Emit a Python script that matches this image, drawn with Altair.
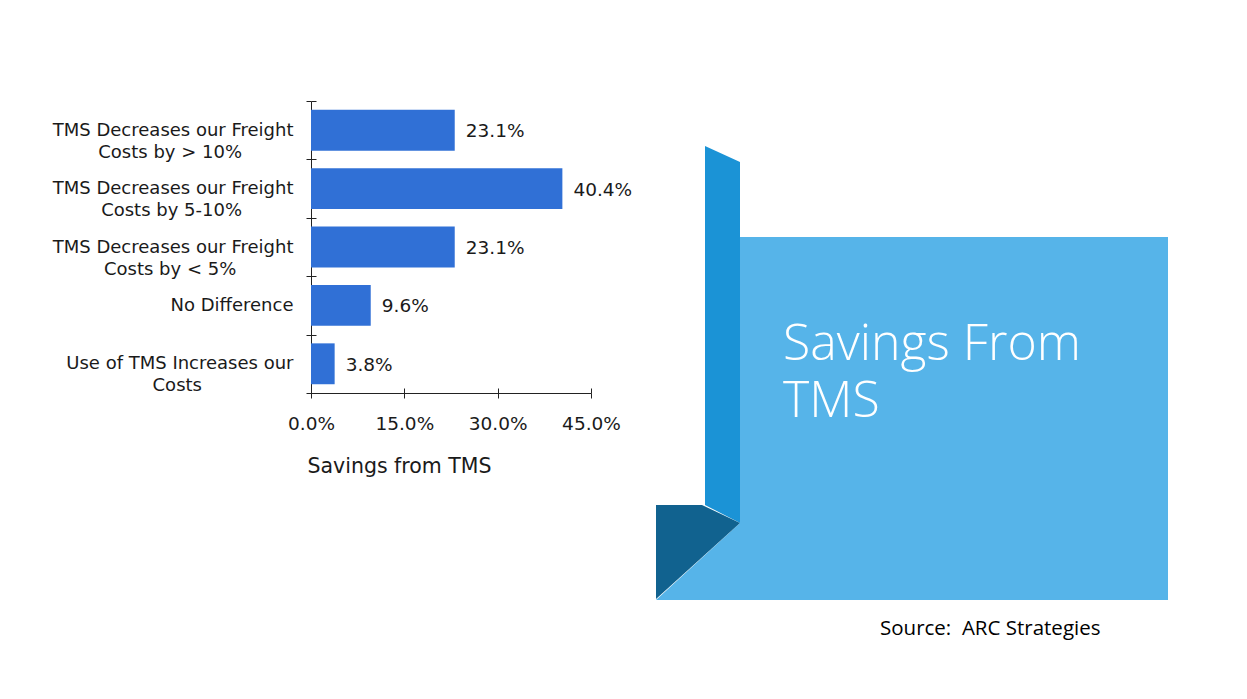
import altair as alt
import pandas as pd

# ---- data ----
categories = [
    "TMS Decreases our Freight\nCosts by > 10%",
    "TMS Decreases our Freight\nCosts by 5-10%",
    "TMS Decreases our Freight\nCosts by < 5%",
    "No Difference",
    "Use of TMS Increases our\nCosts",
]
values = [23.1, 40.4, 23.1, 9.6, 3.8]
x_ticks = [0, 15, 30, 45]
x_title = "Savings from TMS"
slide_title = ["Savings From", "TMS"]
source_text = "Source:\u00a0 ARC Strategies"

# approximate DejaVu Sans advance widths (em) used to centre the second line of a label
W = {' ': 0.318, 'T': 0.611, 'M': 0.863, 'S': 0.635, 'D': 0.770, 'e': 0.615, 'c': 0.550,
     'r': 0.411, 'a': 0.613, 's': 0.521, 'o': 0.612, 'u': 0.634, 'F': 0.575, 'i': 0.278,
     'g': 0.635, 'h': 0.634, 't': 0.392, 'C': 0.698, 'b': 0.635, 'y': 0.592, '>': 0.838,
     '<': 0.838, '%': 0.950, '-': 0.361, 'U': 0.732, 'f': 0.352, 'I': 0.295, 'n': 0.634,
     'N': 0.748, '.': 0.318}


def pad_label(s):
    lines = s.split("\n")
    if len(lines) == 1:
        return s
    widths = [sum(W.get(ch, 0.636) for ch in ln) for ln in lines]
    m = max(widths)
    out = []
    for ln, w in zip(lines, widths):
        n = int(round((m - w) / 2 / 0.318))
        # trailing zero-width space keeps the no-break spaces from being trimmed
        out.append(ln + "\u00a0" * n + ("\u200b" if n else ""))
    return "\n".join(out)


labels = [pad_label(c) for c in categories]
df = pd.DataFrame({"label": labels, "value": values})

TEXT = "#1a1a1a"
AX = "#222222"
FONT = "DejaVu Sans"

y_enc = alt.Y(
    "label:N",
    sort=labels,
    scale=alt.Scale(paddingInner=0, paddingOuter=0),
    axis=alt.Axis(
        title=None,
        labelExpr="split(datum.label, '\\n')",
        labelFont=FONT,
        labelFontSize=18,
        labelColor=TEXT,
        labelLineHeight=22,
        labelPadding=13,
        labelLimit=0,
        tickSize=5,
        tickBand="extent",
        tickColor=AX,
        domainColor=AX,
    ),
)
x_enc = alt.X(
    "value:Q",
    scale=alt.Scale(domain=[0, 45], nice=False),
    axis=alt.Axis(
        values=x_ticks,
        labelExpr="format(datum.value, '.1f') + '%'",
        labelFont=FONT,
        labelFontSize=18.5,
        labelColor=TEXT,
        labelPadding=16,
        labelFlush=False,
        tickSize=5,
        tickColor=AX,
        domainColor=AX,
        grid=False,
        title=x_title,
        titleFont=FONT,
        titleFontSize=20.5,
        titleFontWeight="normal",
        titleColor=TEXT,
        titleAnchor="start",
        titleAlign="left",
        titleBaseline="alphabetic",
        titleX=-4,
        titleY=79,
    ),
)

bars = alt.Chart(df).mark_bar(color="#3070D6", height=alt.RelativeBandSize(0.7)).encode(
    x=x_enc, y=y_enc
)

# second set of ticks drawn inward so that ticks cross the axis lines
value_text = (
    alt.Chart(df)
    .transform_calculate(txt="format(datum.value, '.1f') + '%'")
    .mark_text(align="left", baseline="middle", dx=11, dy=1, fontSize=18.5, font=FONT, color=TEXT)
    .encode(
        x=alt.X("value:Q", axis=alt.Axis(orient="bottom", offset=-5, values=x_ticks, labels=False,
                                         domain=False, tickSize=5, tickColor=AX, grid=False,
                                         title=None)),
        y=alt.Y("label:N", sort=labels,
                axis=alt.Axis(orient="left", offset=-5, labels=False, domain=False, tickSize=5,
                              tickBand="extent", tickColor=AX, title=None)),
        text="txt:N",
    )
)

one = pd.DataFrame({"k": [0]})


def shape(path, color):
    return (
        alt.Chart(one)
        .mark_point(shape=path, size=4, filled=True, color=color, opacity=1, strokeWidth=0)
        .encode(x=alt.value(0), y=alt.value(0))
    )


light = shape("M345,499L429,422L429,136L857,136L857,499Z", "#56B4E9")
strip = shape("M394,45L429,61L429,422L394,404Z", "#1B93D6")
dark = shape("M345,404L391,404L429,422L345,498Z", "#11628F")


def title_line(txt, ybase):
    return (
        alt.Chart(one)
        .mark_text(align="left", baseline="alphabetic", fontSize=50, font="Open Sans",
                   fontWeight=300, color="white")
        .encode(x=alt.value(472), y=alt.value(ybase), text=alt.value(txt))
    )


t1 = title_line(slide_title[0], 259)
t2 = title_line(slide_title[1], 316)

src = (
    alt.Chart(one)
    .mark_text(align="left", baseline="alphabetic", fontSize=20.5, font="Open Sans", color="black")
    .encode(x=alt.value(569), y=alt.value(534), text=alt.value(source_text))
)

chart = (
    alt.layer(bars, value_text, light, strip, dark, t1, t2, src)
    .resolve_axis(x="independent", y="independent")
    .properties(
        width=280,
        height=292,
        padding={"left": 303, "top": 93, "right": 640, "bottom": 290},
        autosize=alt.AutoSizeParams(type="none"),
        background="white",
    )
    .configure_view(stroke=None)
)

chart.save("out.html", embed_options={"renderer": "svg", "actions": False})
